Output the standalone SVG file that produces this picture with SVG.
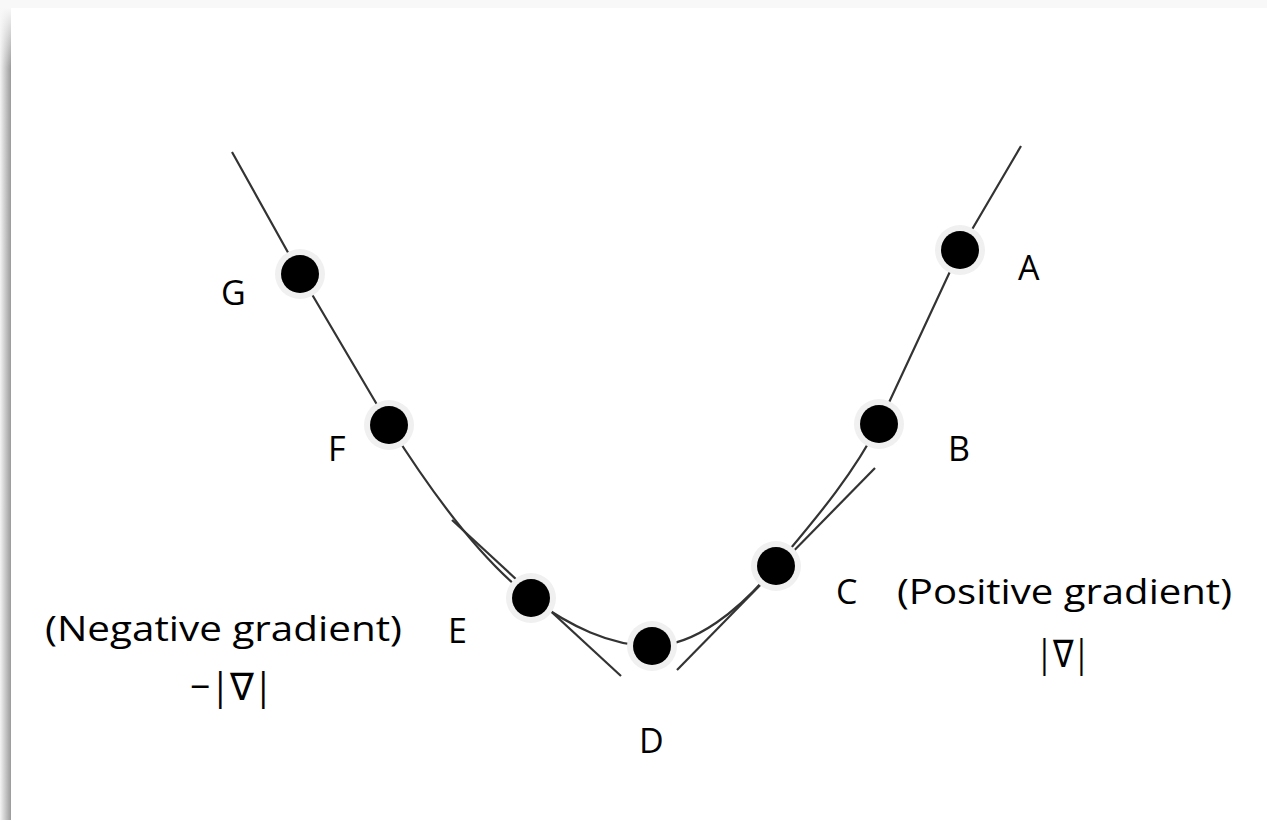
<svg xmlns="http://www.w3.org/2000/svg" width="1267" height="820" viewBox="0 0 1267 820">
<style>
.lbl{font-family:"Open Sans","Liberation Sans",sans-serif;font-size:34px;fill:#000}
.sym{font-family:"Open Sans","Liberation Sans",sans-serif;font-size:38px;fill:#000}
.crv{fill:none;stroke:#333;stroke-width:2.2}
.halo{fill:#f0f0f0}
.dot{fill:#000}
</style>
<defs>
<linearGradient id="sh" x1="0" y1="0" x2="1" y2="0">
<stop offset="0" stop-color="#f4f4f4"/>
<stop offset="1" stop-color="#9a9a9a"/>
</linearGradient>
<linearGradient id="topfade" x1="0" y1="0" x2="0" y2="1">
<stop offset="0" stop-color="#f8f8f8" stop-opacity="1"/>
<stop offset="1" stop-color="#f8f8f8" stop-opacity="0"/>
</linearGradient>
</defs>
<rect x="0" y="0" width="1267" height="820" fill="#f8f8f8"/>
<rect x="0" y="8" width="11" height="812" fill="url(#sh)"/>
<rect x="0" y="8" width="11" height="60" fill="url(#topfade)"/>
<rect x="11" y="8" width="1256" height="812" fill="#ffffff"/>
<g id="connectors">
<path class="crv" d="M232,152 L300,274 L389,425 C430,490 480,560 531,598 C570,626 610,646 652,646 C695,646 740,610 776,566 C810,525 850,480 879,424 L960,250 L1021,146"/>
<line class="crv" x1="452" y1="520" x2="621" y2="676"/>
<line class="crv" x1="677" y1="670" x2="875" y2="468"/>
</g>
<g id="G"><circle class="halo" cx="300" cy="274" r="25"/><circle class="dot" cx="300" cy="274" r="19"/><text class="lbl" x="221" y="305">G</text></g>
<g id="F"><circle class="halo" cx="389" cy="425" r="25"/><circle class="dot" cx="389" cy="425" r="19"/><text class="lbl" x="328" y="461">F</text></g>
<g id="E"><circle class="halo" cx="531" cy="598" r="25"/><circle class="dot" cx="531" cy="598" r="19"/><text class="lbl" x="448" y="643">E</text></g>
<g id="D"><circle class="halo" cx="652" cy="646" r="25"/><circle class="dot" cx="652" cy="646" r="19"/><text class="lbl" x="639" y="753">D</text></g>
<g id="C"><circle class="halo" cx="776" cy="566" r="25"/><circle class="dot" cx="776" cy="566" r="19"/><text class="lbl" x="836" y="604">C</text></g>
<g id="B"><circle class="halo" cx="879" cy="424" r="25"/><circle class="dot" cx="879" cy="424" r="19"/><text class="lbl" x="948" y="461">B</text></g>
<g id="A"><circle class="halo" cx="960" cy="250" r="25"/><circle class="dot" cx="960" cy="250" r="19"/><text class="lbl" x="1018" y="280">A</text></g>
<g id="neg"><text class="lbl" x="45" y="641" textLength="357" lengthAdjust="spacingAndGlyphs">(Negative gradient)</text><text class="sym" x="190" y="700" textLength="83" lengthAdjust="spacingAndGlyphs">−|∇|</text></g>
<g id="pos"><text class="lbl" x="897" y="604" textLength="335" lengthAdjust="spacingAndGlyphs">(Positive gradient)</text><text class="sym" x="1036" y="667" textLength="54" lengthAdjust="spacingAndGlyphs">|∇|</text></g>
</svg>
